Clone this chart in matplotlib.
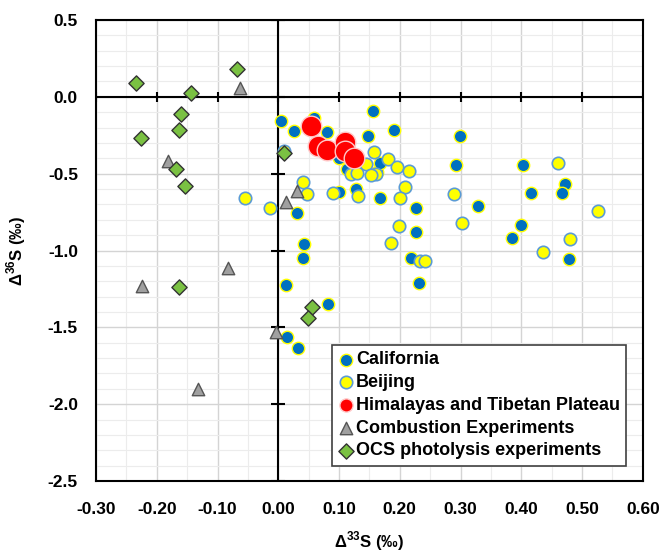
import numpy as np
import matplotlib
matplotlib.use("Agg")
import matplotlib.pyplot as plt
from matplotlib.ticker import MultipleLocator

plt.rcParams['font.family'] = ['Liberation Sans', 'DejaVu Sans']
plt.rcParams['font.weight'] = 'bold'
plt.rcParams['mathtext.fontset'] = 'custom'
plt.rcParams['mathtext.bf'] = 'Liberation Sans:bold'
plt.rcParams['mathtext.rm'] = 'Liberation Sans:bold'

# Данные (Δ33S, Δ36S)
cal_x = [0.005, 0.026, 0.058, 0.081, 0.156, 0.148, 0.191, 0.299, 0.292, 0.402,
         0.472, 0.467, 0.416, 0.329, 0.400, 0.384, 0.478, 0.226, 0.227, 0.219,
         0.231, 0.030, 0.042, 0.041, 0.012, 0.082, 0.015, 0.032, 0.100, 0.128,
         0.167, 0.163, 0.167, 0.113, 0.100]
cal_y = [-0.160, -0.220, -0.135, -0.232, -0.092, -0.255, -0.219, -0.258, -0.442, -0.442,
         -0.570, -0.625, -0.627, -0.711, -0.833, -0.916, -1.057, -0.724, -0.881, -1.050,
         -1.213, -0.757, -0.955, -1.046, -1.224, -1.350, -1.565, -1.637, -0.620, -0.600,
         -0.658, -0.490, -0.432, -0.472, -0.398]

bei_x = [-0.055, -0.013, 0.041, 0.048, 0.090, 0.131, 0.158, 0.180, 0.196, 0.215,
         0.144, 0.161, 0.152, 0.119, 0.129, 0.208, 0.201, 0.461, 0.290, 0.527,
         0.303, 0.480, 0.436, 0.198, 0.185, 0.234, 0.242, 0.009]
bei_y = [-0.660, -0.725, -0.553, -0.630, -0.625, -0.645, -0.360, -0.403, -0.454, -0.481,
         -0.437, -0.503, -0.508, -0.503, -0.497, -0.584, -0.656, -0.432, -0.635, -0.742,
         -0.824, -0.926, -1.007, -0.838, -0.953, -1.066, -1.066, -0.350]

him_x = [0.054, 0.065, 0.080, 0.109, 0.109, 0.124]
him_y = [-0.189, -0.323, -0.345, -0.291, -0.352, -0.399]

comb_x = [-0.063, -0.181, 0.031, 0.013, -0.082, -0.225, -0.003, -0.132]
comb_y = [0.060, -0.419, -0.616, -0.686, -1.115, -1.228, -1.532, -1.903]

ocs_x = [-0.234, -0.068, -0.143, -0.160, -0.164, -0.226, -0.168, -0.154, 0.009,
         0.055, 0.049, -0.163]
ocs_y = [0.089, 0.180, 0.028, -0.109, -0.215, -0.269, -0.471, -0.579, -0.367,
         -1.369, -1.437, -1.235]

x_ticks = np.arange(-0.3, 0.61, 0.1)
y_ticks = np.arange(-2.5, 0.51, 0.5)

fig = plt.figure(figsize=(6.64, 5.57), dpi=100)
ax = fig.add_axes([0.1446, 0.1364, 0.8235, 0.8277])

ax.set_xlim(-0.3, 0.6)
ax.set_ylim(-2.5, 0.5)
ax.xaxis.set_major_locator(MultipleLocator(0.1))
ax.xaxis.set_minor_locator(MultipleLocator(0.05))
ax.yaxis.set_major_locator(MultipleLocator(0.5))
ax.yaxis.set_minor_locator(MultipleLocator(0.1))
ax.grid(which='major', color='#d4d4d4', linewidth=1.0)
ax.grid(which='minor', color='#ececec', linewidth=0.8)
ax.set_axisbelow(True)
ax.tick_params(which='both', length=0, labelsize=12.5)
ax.tick_params(axis='x', pad=15)
ax.tick_params(axis='y', pad=13)
ax.set_xticklabels([f"{t:.2f}" for t in ax.get_xticks()], fontweight='bold')
ax.set_yticklabels([f"{t:.1f}" for t in ax.get_yticks()], fontweight='bold')
for s in ax.spines.values():
    s.set_linewidth(1.5)
    s.set_color('black')

# Оси через ноль с засечками
ax.axhline(0, color='black', linewidth=1.5, zorder=1)
ax.axvline(0, color='black', linewidth=1.5, zorder=1)
ax.plot(x_ticks, np.zeros_like(x_ticks), linestyle='none', marker='|',
        markersize=7, markeredgewidth=1.5, color='black', zorder=1)
ax.plot(np.zeros_like(y_ticks), y_ticks, linestyle='none', marker='_',
        markersize=10, markeredgewidth=1.5, color='black', zorder=1)

ax.scatter(cal_x, cal_y, s=80, c='#0070C0', edgecolors='#FFFF00', linewidths=1.0,
           label='California', zorder=3)
ax.scatter(bei_x, bei_y, s=80, c='#FFFF00', edgecolors='#5B9BD5', linewidths=1.2,
           label='Beijing', zorder=3)
ax.scatter(him_x, him_y, s=220, c='#FF0000', edgecolors='#FFC8C8', linewidths=1.0,
           label='Himalayas and Tibetan Plateau', zorder=4)
ax.scatter(comb_x, comb_y, s=80, marker='^', c='#A0A0A0', edgecolors='#555555',
           linewidths=1.0, label='Combustion Experiments', zorder=5)
ax.scatter(ocs_x, ocs_y, s=60, marker='D', c='#7AC142', edgecolors='#333333',
           linewidths=1.0, label='OCS photolysis experiments', zorder=5)

leg = ax.legend(loc='lower left', bbox_to_anchor=(0.431, 0.033), borderaxespad=0,
                prop={'size': 13, 'weight': 'bold'}, fancybox=False,
                edgecolor='#404040', framealpha=1, handletextpad=0.1,
                handlelength=0.9, labelspacing=0.32, borderpad=0.35,
                markerscale=1.0)
leg.get_frame().set_linewidth(1.2)
leg.legend_handles[2].set_sizes([90])

ax.set_xlabel('Δ$^{\\mathbf{33}}$S (‰)', fontsize=12, fontweight='bold', labelpad=9)
ax.set_ylabel('Δ$^{\\mathbf{36}}$S (‰)', fontsize=12, fontweight='bold', labelpad=14)

fig.savefig('out.png', dpi=100)
